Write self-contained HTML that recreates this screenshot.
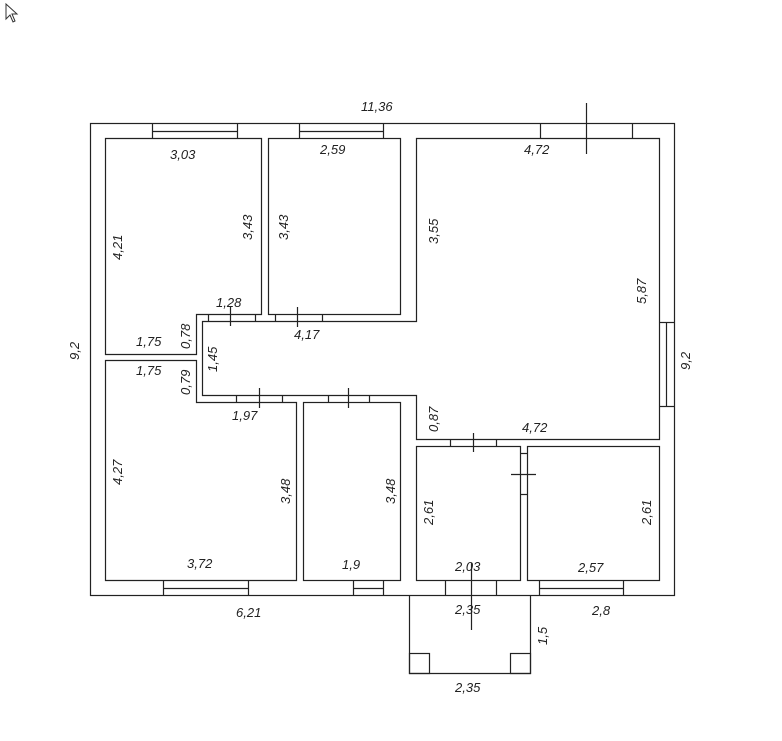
<!DOCTYPE html>
<html><head><meta charset="utf-8"><style>
html,body{margin:0;padding:0;background:#fff;}
svg{display:block}
text{font-family:"Liberation Sans",sans-serif;font-style:italic;font-size:13px;fill:#222}
</style></head><body>
<svg width="782" height="741" viewBox="0 0 782 741" xmlns="http://www.w3.org/2000/svg">
<g fill="none" stroke="#222" stroke-width="1.2">
<!-- cursor -->
<polygon points="6,4 6,19 10,15 13,22 15,21 12,14 17,14" fill="#fff" stroke="#333" stroke-width="1"/>
<!-- outer -->
<rect x="90.5" y="123.5" width="584" height="472"/>
<!-- rooms -->
<polygon points="105.5,138.5 261.5,138.5 261.5,314.5 196.5,314.5 196.5,354.5 105.5,354.5"/>
<rect x="268.5" y="138.5" width="132" height="176"/>
<polygon points="202.5,321.5 416.5,321.5 416.5,138.5 659.5,138.5 659.5,439.5 416.5,439.5 416.5,395.5 202.5,395.5"/>
<polygon points="105.5,360.5 196.5,360.5 196.5,402.5 296.5,402.5 296.5,580.5 105.5,580.5"/>
<rect x="303.5" y="402.5" width="97" height="178"/>
<rect x="416.5" y="446.5" width="104" height="134"/>
<rect x="527.5" y="446.5" width="132" height="134"/>
<!-- porch -->
<polyline points="409.5,595.5 409.5,673.5 530.5,673.5 530.5,595.5"/>
<rect x="409.5" y="653.5" width="20" height="20"/>
<rect x="510.5" y="653.5" width="20" height="20"/>
<!-- top windows -->
<line x1="152.5" y1="123" x2="152.5" y2="138"/><line x1="237.5" y1="123" x2="237.5" y2="138"/><line x1="152.5" y1="131.5" x2="237.5" y2="131.5"/>
<line x1="299.5" y1="123" x2="299.5" y2="138"/><line x1="383.5" y1="123" x2="383.5" y2="138"/><line x1="299.5" y1="131.5" x2="383.5" y2="131.5"/>
<line x1="540.5" y1="123" x2="540.5" y2="138"/><line x1="632.5" y1="123" x2="632.5" y2="138"/><line x1="586.5" y1="103" x2="586.5" y2="154"/>
<!-- right window -->
<line x1="659" y1="322.5" x2="674" y2="322.5"/><line x1="659" y1="406.5" x2="674" y2="406.5"/><line x1="666.5" y1="322.5" x2="666.5" y2="406.5"/>
<!-- bottom windows -->
<line x1="163.5" y1="580" x2="163.5" y2="595"/><line x1="248.5" y1="580" x2="248.5" y2="595"/><line x1="163.5" y1="588.5" x2="248.5" y2="588.5"/>
<line x1="353.5" y1="580" x2="353.5" y2="595"/><line x1="383.5" y1="580" x2="383.5" y2="595"/><line x1="353.5" y1="588.5" x2="383.5" y2="588.5"/>
<line x1="539.5" y1="580" x2="539.5" y2="595"/><line x1="623.5" y1="580" x2="623.5" y2="595"/><line x1="539.5" y1="588.5" x2="623.5" y2="588.5"/>
<!-- room E bottom door -->
<line x1="445.5" y1="580" x2="445.5" y2="595"/><line x1="496.5" y1="580" x2="496.5" y2="595"/><line x1="471.5" y1="563" x2="471.5" y2="630"/>
<!-- doors corridor top -->
<line x1="208.5" y1="314" x2="208.5" y2="321"/><line x1="255.5" y1="314" x2="255.5" y2="321"/><line x1="230.5" y1="306" x2="230.5" y2="326"/>
<line x1="275.5" y1="314" x2="275.5" y2="321"/><line x1="322.5" y1="314" x2="322.5" y2="321"/><line x1="297.5" y1="307" x2="297.5" y2="327"/>
<!-- doors corridor bottom -->
<line x1="236.5" y1="395" x2="236.5" y2="402"/><line x1="282.5" y1="395" x2="282.5" y2="402"/><line x1="259.5" y1="388" x2="259.5" y2="408"/>
<line x1="328.5" y1="395" x2="328.5" y2="402"/><line x1="369.5" y1="395" x2="369.5" y2="402"/><line x1="348.5" y1="388" x2="348.5" y2="408"/>
<!-- room E top door -->
<line x1="450.5" y1="439" x2="450.5" y2="446"/><line x1="496.5" y1="439" x2="496.5" y2="446"/><line x1="473.5" y1="433" x2="473.5" y2="452"/>
<!-- E-F door -->
<line x1="520" y1="453.5" x2="527" y2="453.5"/><line x1="520" y1="494.5" x2="527" y2="494.5"/><line x1="511" y1="474.5" x2="536" y2="474.5"/>
</g>
<!-- labels -->
<text x="361" y="111">11,36</text>
<text x="170" y="159">3,03</text>
<text x="320" y="154">2,59</text>
<text x="524" y="154">4,72</text>
<text x="216" y="307">1,28</text>
<text x="294" y="339">4,17</text>
<text x="136" y="346">1,75</text>
<text x="136" y="375">1,75</text>
<text x="232" y="420">1,97</text>
<text x="522" y="432">4,72</text>
<text x="187" y="568">3,72</text>
<text x="342" y="569">1,9</text>
<text x="455" y="571">2,03</text>
<text x="578" y="572">2,57</text>
<text x="236" y="617">6,21</text>
<text x="455" y="614">2,35</text>
<text x="592" y="615">2,8</text>
<text x="455" y="692">2,35</text>
<g>
<text transform="translate(122,260) rotate(-90)">4,21</text>
<text transform="translate(252,240) rotate(-90)">3,43</text>
<text transform="translate(288,240) rotate(-90)">3,43</text>
<text transform="translate(438,244) rotate(-90)">3,55</text>
<text transform="translate(646,304) rotate(-90)">5,87</text>
<text transform="translate(79,360) rotate(-90)">9,2</text>
<text transform="translate(690,370) rotate(-90)">9,2</text>
<text transform="translate(190,349) rotate(-90)">0,78</text>
<text transform="translate(190,395) rotate(-90)">0,79</text>
<text transform="translate(217,372) rotate(-90)">1,45</text>
<text transform="translate(438,432) rotate(-90)">0,87</text>
<text transform="translate(122,485) rotate(-90)">4,27</text>
<text transform="translate(290,504) rotate(-90)">3,48</text>
<text transform="translate(395,504) rotate(-90)">3,48</text>
<text transform="translate(433,525) rotate(-90)">2,61</text>
<text transform="translate(651,525) rotate(-90)">2,61</text>
<text transform="translate(547,645) rotate(-90)">1,5</text>
</g>
</svg>
</body></html>
